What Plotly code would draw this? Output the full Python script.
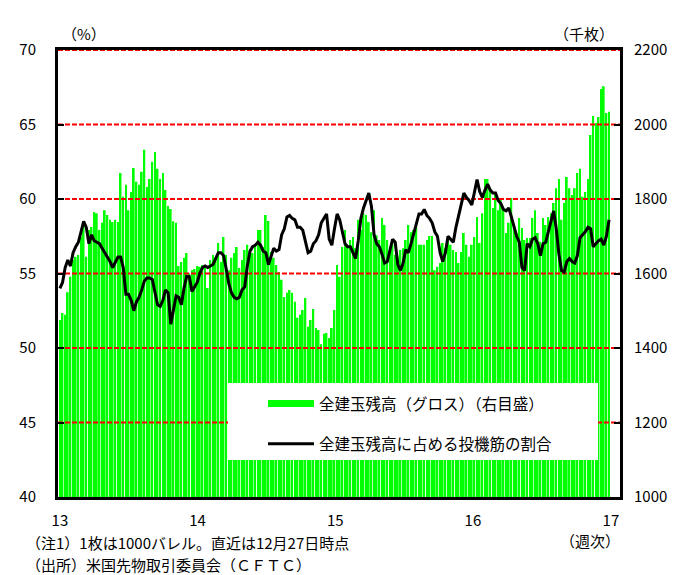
import pandas as pd
import plotly.graph_objects as go

# Weekly observations (Tuesdays), 2013-01-01 .. 2016-12-27
weeks = pd.date_range("2013-01-01", "2016-12-27", freq="7D")

# Total open interest, gross (thousand contracts) - right axis
open_interest = [
    1475, 1494, 1489, 1550, 1591, 1636, 1645, 1650, 1698, 1736,
    1645, 1717, 1725, 1765, 1762, 1717, 1736, 1770, 1757, 1744,
    1738, 1744, 1738, 1870, 1806, 1838, 1770, 1819, 1883, 1846,
    1838, 1873, 1932, 1832, 1854, 1900, 1926, 1881, 1854, 1870,
    1824, 1781, 1773, 1740, 1736, 1620, 1631, 1642, 1655, 1601,
    1609, 1612, 1620, 1618, 1623, 1615, 1561, 1636, 1650, 1642,
    1682, 1631, 1698, 1650, 1609, 1642, 1655, 1671, 1615, 1636,
    1663, 1677, 1663, 1655, 1677, 1717, 1717, 1671, 1757, 1741,
    1658, 1642, 1623, 1604, 1583, 1537, 1548, 1556, 1548, 1524,
    1481, 1489, 1502, 1534, 1457, 1475, 1505, 1454, 1448, 1410,
    1438, 1440, 1427, 1454, 1502, 1623, 1591, 1671, 1717, 1671,
    1690, 1698, 1668, 1744, 1717, 1762, 1757, 1738, 1711, 1770,
    1703, 1690, 1749, 1730, 1690, 1663, 1682, 1650, 1645, 1663,
    1668, 1690, 1730, 1711, 1717, 1725, 1677, 1677, 1677, 1690,
    1701, 1701, 1609, 1618, 1628, 1682, 1668, 1690, 1677, 1663,
    1658, 1628, 1658, 1709, 1677, 1645, 1677, 1698, 1752, 1682,
    1762, 1854, 1854, 1830, 1776, 1816, 1770, 1797, 1770, 1709,
    1736, 1803, 1717, 1709, 1749, 1722, 1690, 1695, 1695, 1749,
    1770, 1709, 1685, 1749, 1730, 1752, 1762, 1789, 1829, 1854,
    1744, 1789, 1859, 1829, 1811, 1829, 1870, 1881, 1806, 1819,
    1854, 1972, 2023, 2004, 2020, 2095, 2103, 2031, 2034,
]

# Speculators' share of total open interest (%) - left axis
spec_share = [
    54.0, 54.4, 55.4, 55.9, 55.5, 56.4, 56.8, 57.1, 57.8, 58.5,
    58.1, 57.0, 57.6, 57.2, 57.1, 57.0, 56.7, 56.4, 56.1, 55.8,
    55.4, 55.8, 56.1, 56.1, 55.4, 53.6, 53.6, 53.2, 52.5, 53.1,
    53.4, 53.9, 54.5, 54.7, 54.7, 54.6, 53.8, 52.9, 52.8, 53.2,
    53.9, 53.7, 51.6, 52.5, 53.5, 53.4, 52.9, 54.0, 54.8, 54.8,
    53.8, 54.1, 54.4, 55.0, 55.4, 55.5, 55.4, 55.5, 55.6, 56.0,
    56.4, 56.4, 56.2, 55.3, 54.3, 53.7, 53.4, 53.3, 53.4, 53.9,
    54.1, 55.5, 56.5, 56.8, 56.9, 57.1, 56.9, 56.5, 56.4, 55.6,
    56.1, 56.7, 56.5, 56.6, 57.6, 58.0, 58.8, 58.9, 58.7, 58.6,
    58.1, 58.1, 57.9, 57.1, 56.4, 56.5, 57.0, 57.2, 57.6, 58.4,
    58.7, 59.0, 57.3, 56.9, 58.0, 59.0, 58.6, 57.8, 57.0, 56.8,
    56.8, 56.4, 56.0, 57.2, 58.7, 59.4, 59.9, 60.4, 59.5, 57.6,
    57.0, 56.8, 56.3, 55.7, 55.8, 56.6, 57.3, 57.1, 55.6, 55.2,
    55.7, 56.6, 56.4, 57.0, 57.7, 58.2, 59.0, 59.0, 59.3, 58.9,
    58.7, 58.4, 57.8, 57.5, 56.4, 55.8, 56.4, 57.5, 57.3, 57.1,
    58.1, 58.9, 59.7, 60.4, 60.1, 59.9, 59.6, 60.5, 61.3, 60.5,
    60.1, 60.6, 61.0, 60.6, 60.4, 60.4, 59.9, 59.7, 59.3, 59.2,
    59.4, 58.8, 58.1, 57.5, 57.1, 55.4, 55.2, 57.0, 56.8, 57.3,
    57.4, 57.0, 56.2, 57.0, 57.1, 57.8, 58.7, 59.2, 58.0, 56.3,
    55.2, 55.1, 55.8, 56.0, 55.8, 55.7, 56.2, 57.4, 57.6, 57.8,
    58.1, 58.0, 56.8, 57.0, 57.2, 57.3, 56.9, 57.5, 58.6,
]

year_ticks = ["2013-01-01", "2014-01-01", "2015-01-01", "2016-01-01", "2017-01-01"]
year_labels = ["13", "14", "15", "16", "17"]
pct_ticks = [40, 45, 50, 55, 60, 65, 70]
pct_grid = [45, 50, 55, 60, 65, 70]
oi_ticks = [1000, 1200, 1400, 1600, 1800, 2000, 2200]

FONT = "Noto Sans CJK JP"
W, H = 685, 575
L, R, T, B = 58, 620, 50, 497
x_range = ["2012-12-27", "2017-01-25"]


def px(x):
    return (x - L) / (R - L)


def py(y):
    return (B - y) / (B - T)


fig = go.Figure()

fig.add_trace(go.Bar(
    x=weeks, y=open_interest, yaxis="y",
    marker=dict(color="#00ff00", line=dict(width=0)),
    showlegend=False, hoverinfo="skip",
))

# red dashed guide lines, drawn above the bars
gx, gy = [], []
for v in pct_grid:
    gx += [x_range[0], x_range[1], None]
    gy += [v, v, None]
fig.add_trace(go.Scatter(
    x=gx, y=gy, yaxis="y2", mode="lines",
    line=dict(color="#ff0000", width=2, dash="5px,2px"),
    showlegend=False, hoverinfo="skip",
))

# legend key for the bar series
fig.add_trace(go.Scatter(
    x=[None], y=[None], yaxis="y2", mode="lines",
    line=dict(color="#00ff00", width=7),
    name="全建玉残高（グロス）（右目盛）", legendgroup="oi",
))

fig.add_trace(go.Scatter(
    x=weeks, y=spec_share, yaxis="y2", mode="lines",
    line=dict(color="black", width=3),
    name="全建玉残高に占める投機筋の割合", legendgroup="share",
))

axis_font = dict(family=FONT, size=15, color="black")

fig.update_layout(
    width=W, height=H,
    margin=dict(l=L, r=W - R, t=T, b=H - B),
    paper_bgcolor="white", plot_bgcolor="white",
    font=dict(family=FONT, size=15, color="black"),
    bargap=0.35,
    xaxis=dict(
        type="date", range=x_range,
        tickvals=year_ticks, ticktext=year_labels,
        ticks="", showgrid=False, zeroline=False,
        showline=True, linecolor="black", linewidth=3, mirror=True,
        tickfont=axis_font, ticklabelstandoff=8,
    ),
    yaxis=dict(
        range=[1000, 2200], tickvals=oi_ticks, side="right",
        ticks="inside", ticklen=6, tickwidth=2, tickcolor="black",
        showgrid=False, zeroline=False,
        showline=True, linecolor="black", linewidth=3,
        tickfont=axis_font, ticklabelstandoff=8,
    ),
    yaxis2=dict(
        range=[40, 70], tickvals=pct_ticks, side="left", overlaying="y",
        ticks="inside", ticklen=6, tickwidth=2, tickcolor="black",
        showgrid=False, zeroline=False,
        showline=True, linecolor="black", linewidth=3,
        tickfont=axis_font, ticklabelstandoff=16,
    ),
    legend=dict(
        x=px(263), y=py(387), xanchor="left", yanchor="top",
        bgcolor="rgba(0,0,0,0)", borderwidth=0,
        font=dict(family=FONT, size=15.5, color="black"),
        traceorder="grouped", tracegroupgap=17, itemwidth=46,
    ),
    showlegend=True,
    shapes=[dict(
        type="rect", xref="paper", yref="paper", layer="above",
        x0=px(228), x1=px(598), y0=py(460), y1=py(383),
        fillcolor="white", line=dict(width=0),
    )],
)

labels = [
    ("（%）", 84, 34, "center", 15),
    ("（千枚）", 584, 34, "center", 15),
    ("（週次）", 590, 540, "center", 15),
    ("（注1）1枚は1000バレル。直近は12月27日時点", 24, 542, "left", 15),
    ("（出所）米国先物取引委員会（ＣＦＴＣ）", 24, 564, "left", 15),
]
for text, x, y, anchor, size in labels:
    fig.add_annotation(
        text=text, xref="paper", yref="paper", x=px(x), y=py(y),
        xanchor=anchor, yanchor="middle", showarrow=False,
        font=dict(family=FONT, size=size, color="black"),
    )

fig.write_html("out.html")
